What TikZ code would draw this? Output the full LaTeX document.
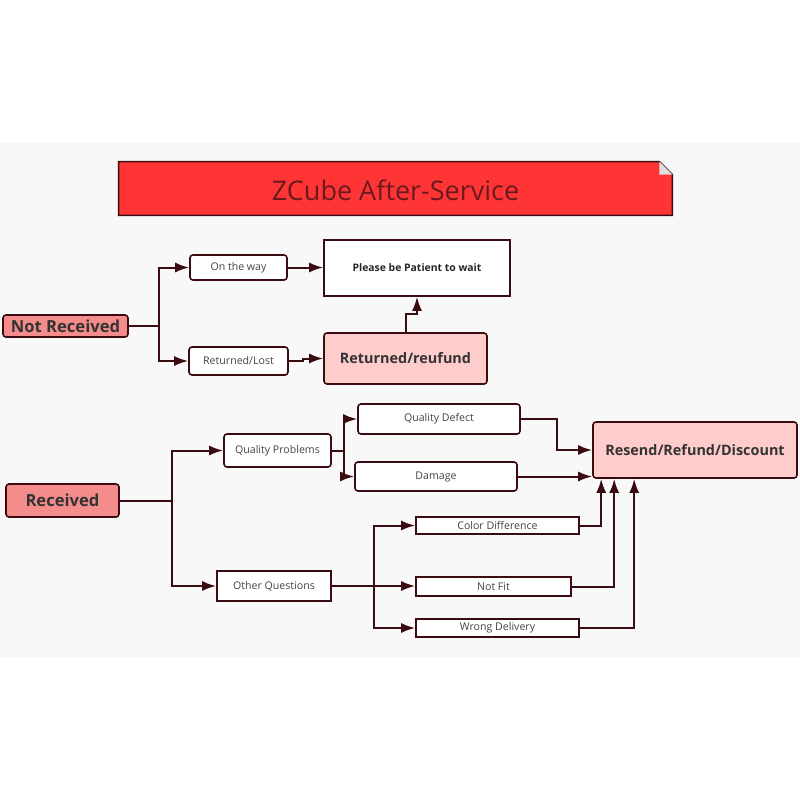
\documentclass[tikz,border=0pt]{standalone}
\usepackage{fontspec}
\setmainfont{Open Sans}
\usepackage{xcolor}
\usepackage{tikz}
\usetikzlibrary{arrows.meta,calc}

\definecolor{linebrown}{HTML}{3A0B10}
\definecolor{titlered}{HTML}{FF3535}
\definecolor{titletext}{HTML}{6A1A1E}
\definecolor{salmon}{HTML}{F48C8C}
\definecolor{paleredfill}{HTML}{FFCCCC}
\definecolor{bandgray}{HTML}{F8F8F8}
\definecolor{labelgray}{HTML}{444444}

\begin{document}
\begin{tikzpicture}[
  x=0.5pt, y=-0.5pt,
  leaf/.style={rectangle, rounded corners=1.5pt, draw=linebrown, line width=0.8pt, fill=white, inner sep=0pt, text=labelgray, font=\fontsize{5.3}{6}\selectfont},
  flatleaf/.style={leaf, rounded corners=0pt},
  topic/.style={rectangle, rounded corners=1.5pt, draw=linebrown, line width=0.8pt, fill=salmon, inner sep=0pt, text=black!80, font=\fontsize{8.3}{10}\bfseries},
  result/.style={rectangle, rounded corners=1.5pt, draw=linebrown, line width=0.8pt, fill=paleredfill, inner sep=0pt, text=black!80, font=\fontsize{7.2}{9}\bfseries},
  conn/.style={-{Latex[length=7pt,width=5pt]}, draw=linebrown, line width=1pt}
]
\useasboundingbox (0,0) rectangle (800,800);
\fill[white] (0,0) rectangle (800,800);
\fill[bandgray] (0,143) rectangle (800,657);

% title with folded corner
\node[minimum width=276.5pt, minimum height=26.5pt, inner sep=0pt] (title) at (395.5,188.5) {};
\draw[linebrown, line width=0.8pt, fill=titlered]
  (title.south west) -- (title.north west) -- ($(title.north east)+(-13,0)$)
  -- ($(title.north east)+(0,13)$) -- (title.south east) -- cycle;
\fill[gray!25] ($(title.north east)+(-13,0)$) -- ($(title.north east)+(0,13)$) -- ($(title.north east)+(-13,13)$) -- cycle;
\node[text=titletext, font=\fontsize{13.5}{16}\selectfont] at ($(title)+(0,2)$) {ZCube After-Service};

% not received branch
\node[topic, minimum width=62.5pt, minimum height=11pt] (notrec) at (65.5,326) {Not Received};
\node[leaf, minimum width=48.5pt, minimum height=12.5pt] (ontheway) at (238.5,267.5) {On the way};
\node[leaf, minimum width=49.5pt, minimum height=14pt] (retlost) at (238.5,361) {Returned/Lost};
\node[flatleaf, minimum width=93pt, minimum height=28pt, text=black!85, font=\fontsize{5.2}{6}\bfseries] (patient) at (417,268) {Please be Patient to wait};
\node[result, minimum width=81.5pt, minimum height=25.5pt] (refund) at (405.5,358.5) {Returned/reufund};

\draw[conn] (notrec.east) -- ++(30,0) |- (ontheway.west);
\draw[conn] (notrec.east) -- ++(30,0) |- (retlost.west);
\draw[conn] (ontheway.east) -- (ontheway.east -| patient.west);
\draw[conn] (retlost.east) -- ++(14,0) |- (refund.west);
\draw[conn] (refund.north) -- ++(0,-18) -| (patient.south);

% received branch
\node[topic, minimum width=56.5pt, minimum height=16.5pt] (received) at (62.5,500.5) {Received};
\node[leaf, minimum width=53.5pt, minimum height=16.5pt] (qprob) at (277.5,450.5) {Quality Problems};
\node[flatleaf, minimum width=57pt, minimum height=15pt] (otherq) at (274,586) {Other Questions};
\node[leaf, minimum width=81pt, minimum height=15pt] (qdefect) at (439,419) {Quality Defect};
\node[leaf, minimum width=81pt, minimum height=14.5pt] (damage) at (436,476.5) {Damage};
\node[result, minimum width=102pt, minimum height=28pt] (resend) at (695,450) {Resend/Refund/Discount};
\node[flatleaf, minimum width=81.5pt, minimum height=8.5pt] (colordiff) at (497.5,525.5) {Color Difference};
\node[flatleaf, minimum width=77.5pt, minimum height=9.5pt] (notfit) at (493.5,586.5) {Not Fit};
\node[flatleaf, minimum width=81.5pt, minimum height=9pt] (wrongdel) at (497.5,628) {Wrong Delivery};

\draw[conn] (received.east) -- ++(52,0) |- (qprob.west);
\draw[conn] (received.east) -- ++(52,0) |- (otherq.west);
\draw[conn] (qprob.east) -- ++(12,0) |- (qdefect.west);
\draw[conn] (qprob.east) -- ++(12,0) |- (damage.west);
\draw[conn] (otherq.east) -- (otherq.east -| notfit.west);
\draw[conn] (otherq.east) -- ++(42,0) |- (colordiff.west);
\draw[conn] (otherq.east) -- ++(42,0) |- (wrongdel.west);

\draw[conn] (qdefect.east) -- ++(36,0) |- (resend.west);
\draw[conn] (damage.east) -- (damage.east -| resend.west);
\draw[conn] (colordiff.east) -| ($(resend.south west)+(9,0)$);
\draw[conn] (notfit.east) -| ($(resend.south west)+(22,0)$);
\draw[conn] (wrongdel.east) -| ($(resend.south west)+(42,0)$);
\end{tikzpicture}
\end{document}
